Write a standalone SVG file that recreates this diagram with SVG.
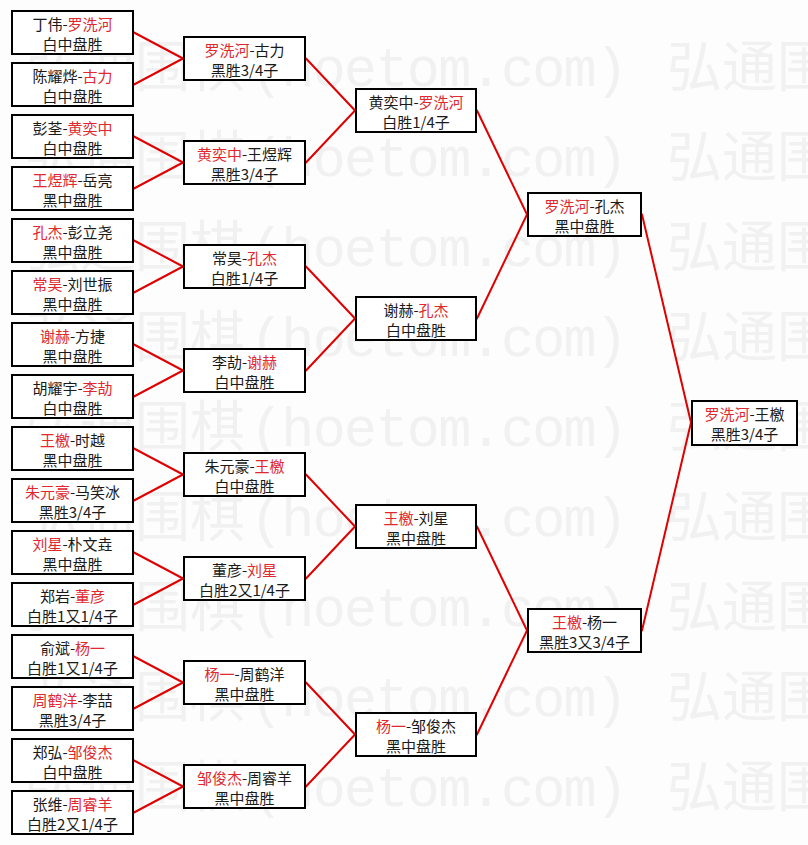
<svg xmlns="http://www.w3.org/2000/svg" width="808" height="845" viewBox="0 0 808 845">
<style>
.bg{fill:#fdfdfd}
.wm{font-family:"Noto Sans CJK SC",sans-serif;font-size:55px;fill:#f1f1f1}
.wma{font-family:"Liberation Mono",monospace;font-size:55px;fill:#f1f1f1}
.box{fill:#ffffff;stroke:#000000;stroke-width:2}
.t{font-family:"Noto Sans CJK SC","Noto Sans CJK JP",sans-serif;font-size:15px;fill:#1a1a1a;text-anchor:middle}
.r{fill:#e0282e}
.c line{stroke:#e00000;stroke-width:2;stroke-linecap:round}
</style>
<rect class="bg" x="0" y="0" width="808" height="845"/>
<g id="watermark">
<g><text class="wm" x="25" y="86" textLength="220">弘通围棋</text><text class="wma" x="250" y="86" textLength="378">(hoetom.com)</text><text class="wm" x="667" y="86" textLength="165">弘通围</text></g>
<g><text class="wm" x="25" y="176" textLength="220">弘通围棋</text><text class="wma" x="250" y="176" textLength="378">(hoetom.com)</text><text class="wm" x="667" y="176" textLength="165">弘通围</text></g>
<g><text class="wm" x="25" y="266" textLength="220">弘通围棋</text><text class="wma" x="250" y="266" textLength="378">(hoetom.com)</text><text class="wm" x="667" y="266" textLength="165">弘通围</text></g>
<g><text class="wm" x="25" y="356" textLength="220">弘通围棋</text><text class="wma" x="250" y="356" textLength="378">(hoetom.com)</text><text class="wm" x="667" y="356" textLength="165">弘通围</text></g>
<g><text class="wm" x="25" y="446" textLength="220">弘通围棋</text><text class="wma" x="250" y="446" textLength="378">(hoetom.com)</text><text class="wm" x="667" y="446" textLength="165">弘通围</text></g>
<g><text class="wm" x="25" y="536" textLength="220">弘通围棋</text><text class="wma" x="250" y="536" textLength="378">(hoetom.com)</text><text class="wm" x="667" y="536" textLength="165">弘通围</text></g>
<g><text class="wm" x="25" y="626" textLength="220">弘通围棋</text><text class="wma" x="250" y="626" textLength="378">(hoetom.com)</text><text class="wm" x="667" y="626" textLength="165">弘通围</text></g>
<g><text class="wm" x="25" y="716" textLength="220">弘通围棋</text><text class="wma" x="250" y="716" textLength="378">(hoetom.com)</text><text class="wm" x="667" y="716" textLength="165">弘通围</text></g>
<g><text class="wm" x="25" y="806" textLength="220">弘通围棋</text><text class="wma" x="250" y="806" textLength="378">(hoetom.com)</text><text class="wm" x="667" y="806" textLength="165">弘通围</text></g>
</g>
<g id="connectors" class="c">
<line x1="134" y1="32.5" x2="183" y2="58.5"/><line x1="134" y1="84.5" x2="183" y2="58.5"/>
<line x1="134" y1="136.5" x2="183" y2="162.5"/><line x1="134" y1="188.5" x2="183" y2="162.5"/>
<line x1="134" y1="240.5" x2="183" y2="266.5"/><line x1="134" y1="292.5" x2="183" y2="266.5"/>
<line x1="134" y1="344.5" x2="183" y2="370.5"/><line x1="134" y1="396.5" x2="183" y2="370.5"/>
<line x1="134" y1="448.5" x2="183" y2="474.5"/><line x1="134" y1="500.5" x2="183" y2="474.5"/>
<line x1="134" y1="552.5" x2="183" y2="578.5"/><line x1="134" y1="604.5" x2="183" y2="578.5"/>
<line x1="134" y1="656.5" x2="183" y2="682.5"/><line x1="134" y1="708.5" x2="183" y2="682.5"/>
<line x1="134" y1="760.5" x2="183" y2="786.5"/><line x1="134" y1="812.5" x2="183" y2="786.5"/>
<line x1="306" y1="58.5" x2="355" y2="110.5"/><line x1="306" y1="162.5" x2="355" y2="110.5"/>
<line x1="306" y1="266.5" x2="355" y2="318.5"/><line x1="306" y1="370.5" x2="355" y2="318.5"/>
<line x1="306" y1="474.5" x2="355" y2="526.5"/><line x1="306" y1="578.5" x2="355" y2="526.5"/>
<line x1="306" y1="682.5" x2="355" y2="734.5"/><line x1="306" y1="786.5" x2="355" y2="734.5"/>
<line x1="477" y1="110.5" x2="527" y2="214.5"/><line x1="477" y1="318.5" x2="527" y2="214.5"/>
<line x1="477" y1="526.5" x2="527" y2="630.5"/><line x1="477" y1="734.5" x2="527" y2="630.5"/>
<line x1="642" y1="214.5" x2="691" y2="422.5"/><line x1="642" y1="630.5" x2="691" y2="422.5"/>
</g>
<g id="leaf0"><rect class="box" x="12" y="11" width="121" height="43"/><text class="t" x="72.5" y="30">丁伟-<tspan class="r">罗洗河</tspan></text><text class="t" x="72.5" y="50">白中盘胜</text></g>
<g id="leaf1"><rect class="box" x="12" y="63" width="121" height="43"/><text class="t" x="72.5" y="82">陈耀烨-<tspan class="r">古力</tspan></text><text class="t" x="72.5" y="102">白中盘胜</text></g>
<g id="leaf2"><rect class="box" x="12" y="115" width="121" height="43"/><text class="t" x="72.5" y="134">彭荃-<tspan class="r">黄奕中</tspan></text><text class="t" x="72.5" y="154">白中盘胜</text></g>
<g id="leaf3"><rect class="box" x="12" y="167" width="121" height="43"/><text class="t" x="72.5" y="186"><tspan class="r">王煜辉</tspan>-岳亮</text><text class="t" x="72.5" y="206">黑中盘胜</text></g>
<g id="leaf4"><rect class="box" x="12" y="219" width="121" height="43"/><text class="t" x="72.5" y="238"><tspan class="r">孔杰</tspan>-彭立尧</text><text class="t" x="72.5" y="258">黑中盘胜</text></g>
<g id="leaf5"><rect class="box" x="12" y="271" width="121" height="43"/><text class="t" x="72.5" y="290"><tspan class="r">常昊</tspan>-刘世振</text><text class="t" x="72.5" y="310">黑中盘胜</text></g>
<g id="leaf6"><rect class="box" x="12" y="323" width="121" height="43"/><text class="t" x="72.5" y="342"><tspan class="r">谢赫</tspan>-方捷</text><text class="t" x="72.5" y="362">黑中盘胜</text></g>
<g id="leaf7"><rect class="box" x="12" y="375" width="121" height="43"/><text class="t" x="72.5" y="394">胡耀宇-<tspan class="r">李劼</tspan></text><text class="t" x="72.5" y="414">白中盘胜</text></g>
<g id="leaf8"><rect class="box" x="12" y="427" width="121" height="43"/><text class="t" x="72.5" y="446"><tspan class="r">王檄</tspan>-时越</text><text class="t" x="72.5" y="466">黑中盘胜</text></g>
<g id="leaf9"><rect class="box" x="12" y="479" width="121" height="43"/><text class="t" x="72.5" y="498"><tspan class="r">朱元豪</tspan>-马笑冰</text><text class="t" x="72.5" y="518">黑胜3/4子</text></g>
<g id="leaf10"><rect class="box" x="12" y="531" width="121" height="43"/><text class="t" x="72.5" y="550"><tspan class="r">刘星</tspan>-朴文垚</text><text class="t" x="72.5" y="570">黑中盘胜</text></g>
<g id="leaf11"><rect class="box" x="12" y="583" width="121" height="43"/><text class="t" x="72.5" y="602">郑岩-<tspan class="r">董彦</tspan></text><text class="t" x="72.5" y="622">白胜1又1/4子</text></g>
<g id="leaf12"><rect class="box" x="12" y="635" width="121" height="43"/><text class="t" x="72.5" y="654">俞斌-<tspan class="r">杨一</tspan></text><text class="t" x="72.5" y="674">白胜1又1/4子</text></g>
<g id="leaf13"><rect class="box" x="12" y="687" width="121" height="43"/><text class="t" x="72.5" y="706"><tspan class="r">周鹤洋</tspan>-李喆</text><text class="t" x="72.5" y="726">黑胜3/4子</text></g>
<g id="leaf14"><rect class="box" x="12" y="739" width="121" height="43"/><text class="t" x="72.5" y="758">郑弘-<tspan class="r">邹俊杰</tspan></text><text class="t" x="72.5" y="778">白中盘胜</text></g>
<g id="leaf15"><rect class="box" x="12" y="791" width="121" height="43"/><text class="t" x="72.5" y="810">张维-<tspan class="r">周睿羊</tspan></text><text class="t" x="72.5" y="830">白胜2又1/4子</text></g>
<g id="r2_0"><rect class="box" x="184" y="37" width="121" height="43"/><text class="t" x="244.5" y="56"><tspan class="r">罗洗河</tspan>-古力</text><text class="t" x="244.5" y="76">黑胜3/4子</text></g>
<g id="r2_1"><rect class="box" x="184" y="141" width="121" height="43"/><text class="t" x="244.5" y="160"><tspan class="r">黄奕中</tspan>-王煜辉</text><text class="t" x="244.5" y="180">黑胜3/4子</text></g>
<g id="r2_2"><rect class="box" x="184" y="245" width="121" height="43"/><text class="t" x="244.5" y="264">常昊-<tspan class="r">孔杰</tspan></text><text class="t" x="244.5" y="284">白胜1/4子</text></g>
<g id="r2_3"><rect class="box" x="184" y="349" width="121" height="43"/><text class="t" x="244.5" y="368">李劼-<tspan class="r">谢赫</tspan></text><text class="t" x="244.5" y="388">白中盘胜</text></g>
<g id="r2_4"><rect class="box" x="184" y="453" width="121" height="43"/><text class="t" x="244.5" y="472">朱元豪-<tspan class="r">王檄</tspan></text><text class="t" x="244.5" y="492">白中盘胜</text></g>
<g id="r2_5"><rect class="box" x="184" y="557" width="121" height="43"/><text class="t" x="244.5" y="576">董彦-<tspan class="r">刘星</tspan></text><text class="t" x="244.5" y="596">白胜2又1/4子</text></g>
<g id="r2_6"><rect class="box" x="184" y="661" width="121" height="43"/><text class="t" x="244.5" y="680"><tspan class="r">杨一</tspan>-周鹤洋</text><text class="t" x="244.5" y="700">黑中盘胜</text></g>
<g id="r2_7"><rect class="box" x="184" y="765" width="121" height="43"/><text class="t" x="244.5" y="784"><tspan class="r">邹俊杰</tspan>-周睿羊</text><text class="t" x="244.5" y="804">黑中盘胜</text></g>
<g id="r3_0"><rect class="box" x="356" y="89" width="120" height="43"/><text class="t" x="416" y="108">黄奕中-<tspan class="r">罗洗河</tspan></text><text class="t" x="416" y="128">白胜1/4子</text></g>
<g id="r3_1"><rect class="box" x="356" y="297" width="120" height="43"/><text class="t" x="416" y="316">谢赫-<tspan class="r">孔杰</tspan></text><text class="t" x="416" y="336">白中盘胜</text></g>
<g id="r3_2"><rect class="box" x="356" y="505" width="120" height="43"/><text class="t" x="416" y="524"><tspan class="r">王檄</tspan>-刘星</text><text class="t" x="416" y="544">黑中盘胜</text></g>
<g id="r3_3"><rect class="box" x="356" y="713" width="120" height="43"/><text class="t" x="416" y="732"><tspan class="r">杨一</tspan>-邹俊杰</text><text class="t" x="416" y="752">黑中盘胜</text></g>
<g id="r4_0"><rect class="box" x="528" y="193" width="113" height="43"/><text class="t" x="584.5" y="212"><tspan class="r">罗洗河</tspan>-孔杰</text><text class="t" x="584.5" y="232">黑中盘胜</text></g>
<g id="r4_1"><rect class="box" x="528" y="609" width="113" height="43"/><text class="t" x="584.5" y="628"><tspan class="r">王檄</tspan>-杨一</text><text class="t" x="584.5" y="648">黑胜3又3/4子</text></g>
<g id="final"><rect class="box" x="692" y="401" width="105" height="44"/><text class="t" x="744.5" y="420"><tspan class="r">罗洗河</tspan>-王檄</text><text class="t" x="744.5" y="440">黑胜3/4子</text></g>
</svg>
